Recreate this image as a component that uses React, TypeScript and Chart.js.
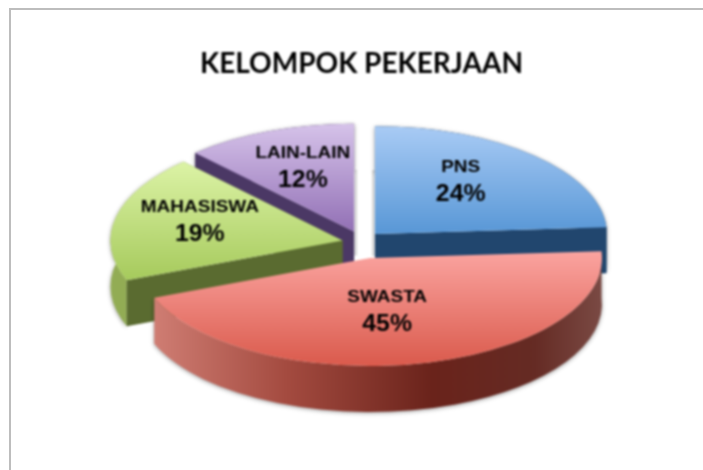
import React, { useEffect, useRef } from "react";
import { Chart, registerables } from "chart.js";

Chart.register(...registerables);

const categories = ["PNS", "SWASTA", "MAHASISWA", "LAIN-LAIN"];
const shares = [24, 45, 19, 12];
const chartTitle = "KELOMPOK PEKERJAAN";

const explode = [16, 41, 20, 16];
const nudge: [number, number][] = [[2, 1], [-1, 1], [0, 4], [-2, 0]];
const topColors = [["#a9cbf5", "#5897d6"], ["#fba4a0", "#da5a4c"], ["#dcf3a6", "#a6ca5c"], ["#d6c3ea", "#9270b5"]];
const faceColors = ["#21466e", "#7a2f28", "#5a6b30", "#4b3865"];
const wallStops: [number, string][][] = [
  [[0, "#21466e"], [1, "#2a4d75"]],
  [[0, "#cf7d73"], [0.3, "#a34a3f"], [0.62, "#6a231b"], [0.85, "#652b24"], [1, "#7a4a44"]],
  [[0, "#93ad55"], [0.6, "#7c9540"], [1, "#5a6b30"]],
  [[0, "#5a4578"], [1, "#4b3865"]],
];
const drawOrder = [3, 0, 2, 1];
const labelAnchors: [number, number][] = [[0.54, 0.67], [0.34, 0.51], [0.63, 0.82], [0.6, 0.64]];

const CX = 362, CY = 238.5, RX = 232, TILT = 0.465, DEPTH = 46;

const pie3d = {
  id: "pie3d",
  beforeDatasetsDraw(chart: any) {
    const ctx = chart.ctx as CanvasRenderingContext2D;
    const arcs = chart.getDatasetMeta(0).data;
    const RY = RX * TILT;
    const geo = arcs.map((el: any, i: number) => {
      const { startAngle: a0, endAngle: a1 } = el.getProps(["startAngle", "endAngle"], true);
      const mid = (a0 + a1) / 2;
      return {
        a0, a1, mid,
        x: CX + Math.cos(mid) * explode[i] + nudge[i][0],
        y: CY + Math.sin(mid) * explode[i] * TILT + nudge[i][1],
      };
    });
    ctx.save();
    // soft shadows next to the gap between the two upper slices
    ctx.fillStyle = "rgba(0,0,0,0.16)";
    ctx.fillRect(geo[0].x - 3, geo[0].y - 64, 3, 86);
    ctx.fillRect(geo[3].x, geo[3].y - 62, 3, 86);
    for (const i of drawOrder) {
      const { a0, a1, x, y } = geo[i];
      // outer wall
      const wall = ctx.createLinearGradient(x - RX, 0, x + RX, 0);
      if (i === 1) {
        const l = x + Math.cos(a1) * RX, r = x + RX;
        const g = ctx.createLinearGradient(l, 0, r, 0);
        wallStops[i].forEach(([o, c]) => g.addColorStop(o, c));
        ctx.fillStyle = g;
      } else {
        wallStops[i].forEach(([o, c]) => wall.addColorStop(o, c));
        ctx.fillStyle = wall;
      }
      ctx.save();
      ctx.shadowColor = "rgba(0,0,0,0.4)";
      ctx.shadowBlur = 4;
      ctx.shadowOffsetY = 1;
      ctx.beginPath();
      ctx.ellipse(x, y, RX, RY, 0, a0, a1);
      ctx.ellipse(x, y + DEPTH, RX, RY, 0, a1, a0, true);
      ctx.closePath();
      ctx.fill();
      ctx.restore();
      // radial cut faces
      ctx.fillStyle = faceColors[i];
      for (const a of [a0, a1]) {
        const ex = x + Math.cos(a) * RX, ey = y + Math.sin(a) * RY;
        ctx.beginPath();
        ctx.moveTo(x, y);
        ctx.lineTo(ex, ey);
        ctx.lineTo(ex, ey + DEPTH);
        ctx.lineTo(x, y + DEPTH);
        ctx.closePath();
        if (!(i === 1)) ctx.fill();
      }
      // top face
      let minY = y, maxY = y;
      for (let t = 0; t <= 40; t++) {
        const yy = y + Math.sin(a0 + ((a1 - a0) * t) / 40) * RY;
        minY = Math.min(minY, yy);
        maxY = Math.max(maxY, yy);
      }
      const grad = ctx.createLinearGradient(0, minY, 0, maxY);
      grad.addColorStop(0, topColors[i][0]);
      grad.addColorStop(1, topColors[i][1]);
      ctx.fillStyle = grad;
      ctx.beginPath();
      ctx.moveTo(x, y);
      ctx.ellipse(x, y, RX, RY, 0, a0, a1);
      ctx.closePath();
      ctx.fill();
    }
    // labels
    ctx.textAlign = "center";
    ctx.textBaseline = "middle";
    ctx.fillStyle = "#000000";
    geo.forEach((g: any, i: number) => {
      const lx = g.x + Math.cos(g.mid) * RX * labelAnchors[i][0];
      const ly = g.y + Math.sin(g.mid) * RY * labelAnchors[i][1];
      ctx.save();
      ctx.translate(lx, ly - 14);
      ctx.scale(1.15, 1);
      ctx.font = "bold 16.5px 'Liberation Sans'";
      ctx.fillText(categories[i], 0, 0);
      ctx.restore();
      ctx.save();
      ctx.translate(lx, ly + 13);
      ctx.scale(1.08, 1);
      ctx.font = "bold 23px 'Liberation Sans'";
      ctx.fillText(`${shares[i]}%`, 0, 0);
      ctx.restore();
    });
    ctx.restore();
    return false;
  },
};

export default function App() {
  const ref = useRef<HTMLCanvasElement>(null);
  useEffect(() => {
    document.body.style.margin = "0";
    const chart = new Chart(ref.current!, {
      type: "pie",
      data: { labels: categories, datasets: [{ data: shares, backgroundColor: topColors.map((c) => c[1]), borderWidth: 0 }] },
      options: {
        animation: false,
        responsive: false,
        layout: { padding: { left: 20 } },
        plugins: {
          legend: { display: false },
          tooltip: { enabled: false },
          title: {
            display: true,
            text: chartTitle,
            color: "#000000",
            font: { family: "Lato", weight: "bold", size: 28 },
            padding: { top: 47, bottom: 10 },
          },
        },
      },
      plugins: [pie3d],
    });
    return () => chart.destroy();
  }, []);
  return (
    <div style={{ position: "absolute", left: 0, top: 0, width: 703, height: 470, overflow: "hidden", background: "#fff" }}>
      <div style={{ position: "absolute", left: 9, top: 8, width: 900, height: 700, borderLeft: "2px solid #bdbdbd", borderTop: "2px solid #bdbdbd", filter: "blur(0.6px)" }} />
      <canvas ref={ref} width={703} height={470} style={{ position: "absolute", left: 0, top: 0, filter: "blur(0.8px)" }} />
    </div>
  );
}
